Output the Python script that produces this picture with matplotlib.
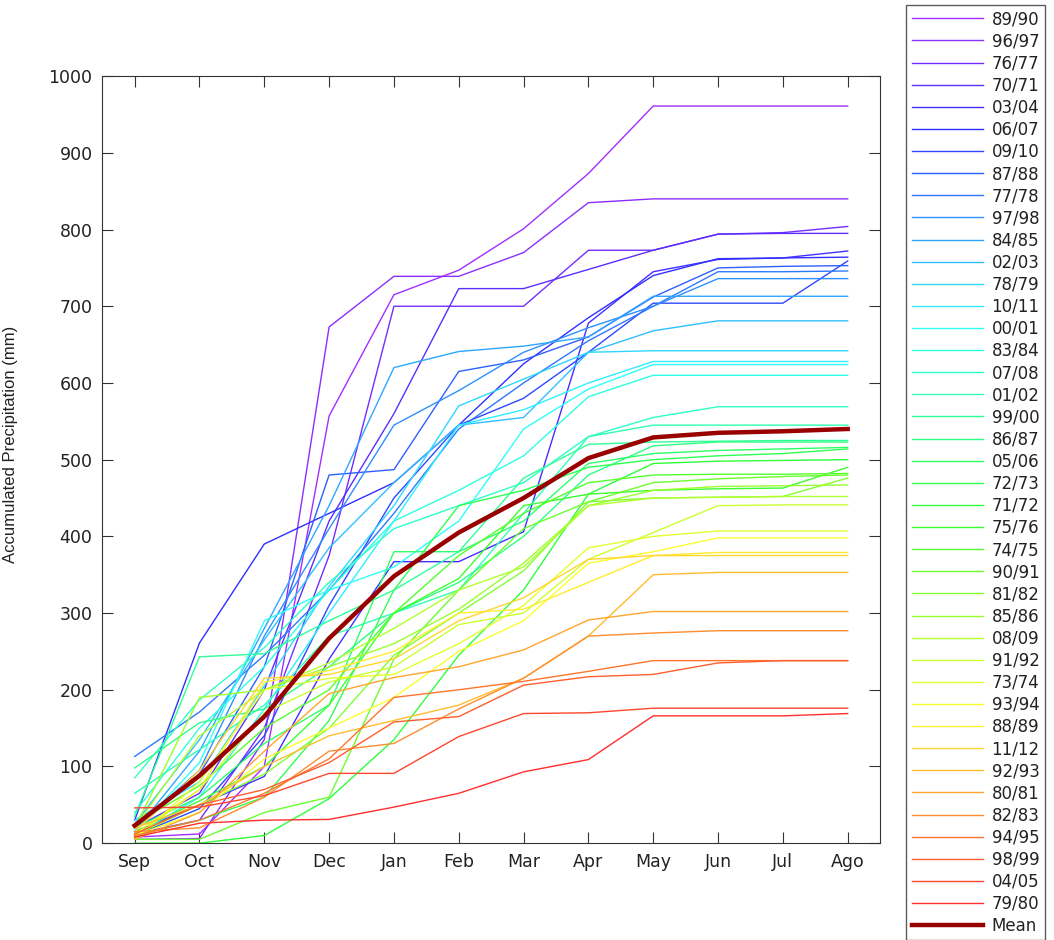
import numpy as np
import matplotlib
matplotlib.use("Agg")
import matplotlib.pyplot as plt
from matplotlib.colors import hsv_to_rgb

plt.rcParams['font.family'] = ['DejaVu Sans']

# === DATA ===
months = ["Sep", "Oct", "Nov", "Dec", "Jan", "Feb", "Mar", "Apr", "May", "Jun", "Jul", "Ago"]

seasons = ["89/90", "96/97", "76/77", "70/71", "03/04", "06/07", "09/10", "87/88",
           "77/78", "97/98", "84/85", "02/03", "78/79", "10/11", "00/01", "83/84",
           "07/08", "01/02", "99/00", "86/87", "05/06", "72/73", "71/72", "75/76",
           "74/75", "90/91", "81/82", "85/86", "08/09", "91/92", "73/74", "93/94",
           "88/89", "11/12", "92/93", "80/81", "82/83", "94/95", "98/99", "04/05", "79/80"]

accum = [
    [8, 12, 100, 557, 715, 747, 801, 873, 961, 961, 961, 961],
    [5, 6, 135, 673, 739, 739, 770, 835, 840, 840, 840, 840],
    [12, 30, 150, 375, 700, 700, 700, 773, 773, 794, 796, 804],
    [20, 65, 200, 420, 560, 723, 723, 748, 773, 794, 795, 795],
    [15, 50, 87, 240, 367, 367, 406, 678, 745, 761, 763, 772],
    [30, 261, 390, 430, 470, 545, 625, 685, 740, 762, 763, 764],
    [10, 45, 140, 310, 450, 545, 580, 640, 704, 704, 704, 759],
    [20, 90, 230, 480, 487, 615, 630, 660, 712, 750, 752, 753],
    [113, 171, 245, 330, 430, 540, 600, 655, 700, 745, 745, 746],
    [20, 95, 270, 410, 545, 590, 640, 672, 700, 736, 736, 736],
    [15, 120, 280, 440, 620, 641, 648, 660, 713, 713, 713, 713],
    [25, 135, 265, 385, 470, 545, 555, 640, 668, 681, 681, 681],
    [30, 80, 205, 335, 440, 570, 605, 640, 642, 642, 642, 642],
    [10, 60, 175, 300, 420, 545, 565, 600, 628, 628, 628, 628],
    [15, 105, 290, 330, 360, 420, 540, 592, 624, 624, 624, 624],
    [40, 150, 230, 330, 420, 460, 505, 582, 610, 610, 610, 610],
    [85, 187, 255, 340, 410, 440, 470, 530, 555, 569, 569, 569],
    [65, 122, 180, 270, 300, 330, 430, 530, 545, 545, 545, 545],
    [35, 243, 247, 290, 330, 380, 476, 520, 523, 524, 525, 525],
    [98, 157, 175, 230, 300, 340, 400, 480, 518, 523, 523, 523],
    [20, 60, 130, 180, 380, 380, 420, 495, 508, 512, 514, 516],
    [10, 30, 60, 160, 330, 440, 460, 490, 500, 505, 508, 514],
    [0, 0, 10, 58, 135, 245, 330, 455, 495, 498, 499, 500],
    [15, 55, 100, 180, 300, 345, 440, 455, 460, 462, 463, 490],
    [25, 75, 150, 200, 300, 375, 430, 470, 480, 481, 481, 482],
    [5, 5, 40, 60, 240, 330, 410, 445, 470, 475, 478, 480],
    [10, 50, 90, 150, 245, 300, 355, 445, 450, 451, 452, 476],
    [20, 190, 200, 230, 260, 305, 365, 440, 460, 465, 466, 467],
    [20, 140, 200, 235, 280, 330, 360, 440, 450, 451, 452, 452],
    [8, 70, 170, 210, 230, 285, 300, 370, 405, 440, 441, 441],
    [5, 80, 200, 215, 220, 260, 310, 385, 400, 407, 407, 407],
    [10, 40, 110, 150, 190, 250, 290, 365, 380, 398, 398, 398],
    [12, 70, 210, 225, 250, 300, 305, 340, 375, 379, 379, 379],
    [15, 95, 215, 220, 240, 290, 320, 370, 375, 375, 375, 375],
    [20, 50, 100, 140, 160, 180, 215, 270, 350, 353, 353, 353],
    [5, 40, 120, 195, 216, 230, 252, 291, 302, 302, 302, 302],
    [15, 20, 60, 120, 130, 175, 215, 270, 274, 277, 277, 277],
    [10, 30, 65, 110, 190, 200, 211, 224, 238, 238, 238, 238],
    [12, 50, 70, 105, 158, 165, 206, 217, 220, 235, 238, 238],
    [46, 47, 62, 91, 91, 139, 169, 170, 176, 176, 176, 176],
    [8, 26, 30, 31, 47, 65, 93, 109, 166, 166, 166, 169],
]

mean_accum = [23, 88, 165, 267, 348, 405, 450, 502, 529, 535, 537, 540]

# === PLOT ===
fig = plt.figure(figsize=(10.54, 9.4), dpi=100)
ax = fig.add_axes([0.097, 0.103, 0.738, 0.816])

x = np.arange(1, len(months) + 1)
n = len(seasons)
hues = np.linspace(0.76, 0.0, n)
for i, (name, vals) in enumerate(zip(seasons, accum)):
    c = hsv_to_rgb([hues[i], 1.0, 1.0])
    c = 0.82 * c + 0.18  # slightly washed out like the original
    ax.plot(x, vals, color=c, lw=1.0, label=name)

ax.plot(x, mean_accum, color="#990000", lw=3.2, label="Mean")

ax.set_xlim(0.5, 12.5)
ax.set_ylim(0, 1000)
ax.set_xticks(x)
ax.set_xticklabels(months)
ax.set_yticks(np.arange(0, 1001, 100))
ax.tick_params(direction="in", length=8, top=True, right=True, labelsize=12.5,
               color="#333333", labelcolor="#222222", pad=7)
for s in ax.spines.values():
    s.set_color("#333333")
ax.set_ylabel("Accumulated Precipitation (mm)", fontsize=12,
              family=["Liberation Sans Narrow", "Liberation Sans"], color="#222222")
ax.yaxis.set_label_coords(-0.108, 0.52)

leg = fig.legend(loc="upper left", bbox_to_anchor=(0.8596, 0.995),
                 fontsize=12, handlelength=4.3, handletextpad=0.5,
                 labelspacing=0.247, borderpad=0.33, frameon=True,
                 fancybox=False, edgecolor="#333333", borderaxespad=0)
leg.get_frame().set_linewidth(1.0)
for t in leg.get_texts():
    t.set_color("#222222")

fig.savefig("out.png", dpi=100)
